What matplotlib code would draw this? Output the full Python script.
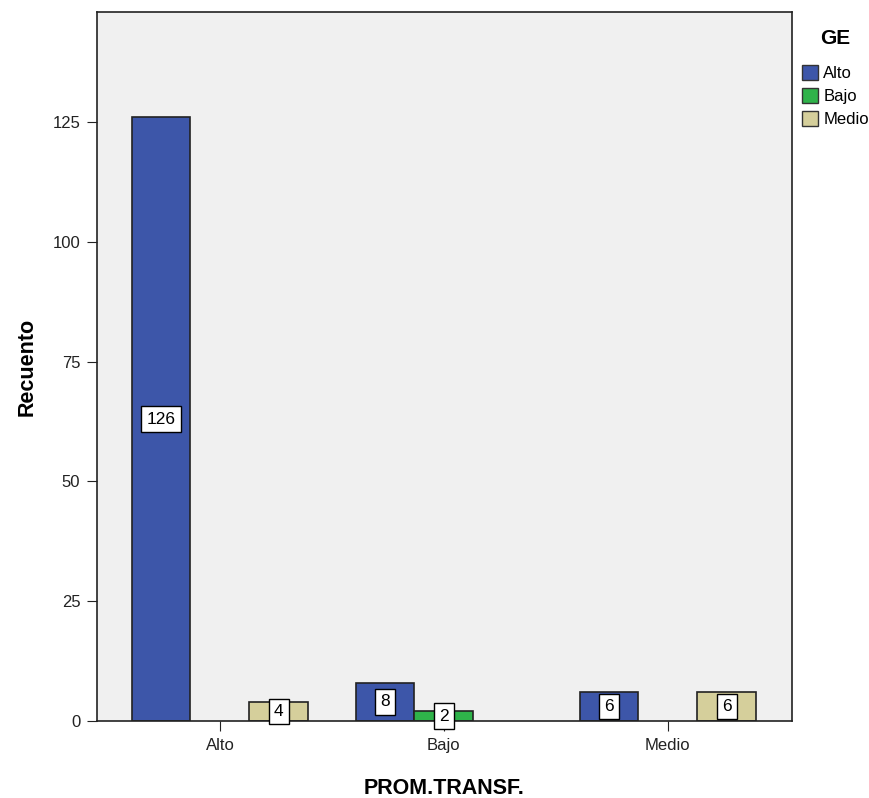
import numpy as np
import matplotlib.pyplot as plt

plt.rcParams['font.family'] = ['Liberation Sans', 'DejaVu Sans']

categories = ['Alto', 'Bajo', 'Medio']
series_names = ['Alto', 'Bajo', 'Medio']
counts = {
    'Alto': [126, 8, 6],
    'Bajo': [0, 2, 0],
    'Medio': [4, 0, 6],
}
colors = {'Alto': '#3d56a9', 'Bajo': '#2fb34a', 'Medio': '#d5cf9b'}

fig = plt.figure(figsize=(8.69, 7.98), dpi=100)
ax = fig.add_axes([0.1116, 0.0965, 0.7998, 0.8885])
ax.set_facecolor('#f0f0f0')

x = np.arange(len(categories))
w = 0.263
for k, name in enumerate(series_names):
    off = (k - 1) * w
    for i, v in enumerate(counts[name]):
        if v == 0:
            continue
        ax.bar(x[i] + off, v, width=w, color=colors[name],
               edgecolor='#222222', linewidth=1.2, zorder=2)
        ax.text(x[i] + off, v / 2, str(v), ha='center', va='center',
                fontsize=12.5, zorder=3,
                bbox=dict(boxstyle='square,pad=0.3', fc='white',
                          ec='black', lw=1))

ax.set_xlim(-0.549, 2.554)
ax.set_ylim(0, 148)
ax.set_xticks(x)
ax.set_xticklabels(categories)
ax.set_yticks([0, 25, 50, 75, 100, 125])
ax.tick_params(colors='#222222', labelsize=12, length=7, pad=5)
for s in ax.spines.values():
    s.set_color('#222222')
    s.set_linewidth(1.2)

ax.set_xlabel('PROM.TRANSF.', fontsize=15.5, fontweight='bold', labelpad=18)
ax.set_ylabel('Recuento', fontsize=15.5, fontweight='bold', labelpad=11)

handles = [plt.Rectangle((0, 0), 1, 1, fc=colors[n], ec='#333333')
           for n in series_names]
leg = fig.legend(handles, series_names, title='GE', loc='upper left',
                 bbox_to_anchor=(0.915, 0.972), frameon=False,
                 fontsize=12, handlelength=1.0, handleheight=1.0,
                 handletextpad=0.3, labelspacing=0.42, borderaxespad=0)
leg.get_title().set_fontweight('bold')
leg.get_title().set_fontsize(15)
leg._legend_box.sep = 12

fig.savefig('out.png', dpi=100)
